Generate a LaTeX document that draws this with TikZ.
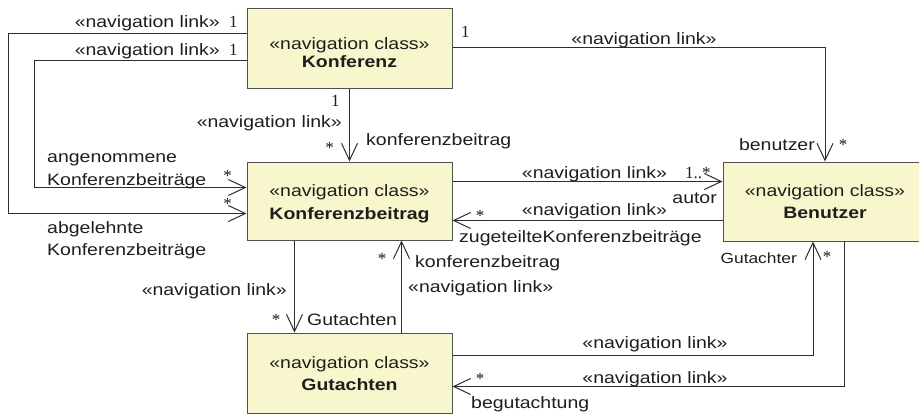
\documentclass[tikz,border=0pt]{standalone}
\usepackage{fontspec}
\setmainfont{Liberation Sans}[FakeStretch=1.18]
\newfontfamily\multfont{Liberation Serif}
\usetikzlibrary{arrows.meta}

\definecolor{boxfill}{RGB}{248,246,204}
\definecolor{boxline}{RGB}{80,80,80}
\definecolor{linecol}{RGB}{45,45,45}
\definecolor{txt}{RGB}{30,30,30}

\newcommand{\labtext}{\fontsize{16.5}{23}\selectfont}
\newcommand{\smalllab}{\fontsize{14.7}{20}\selectfont}
\newcommand{\multtext}{\multfont\fontsize{17}{20}\selectfont}

\tikzset{
  navbox/.style={draw=boxline, fill=boxfill, line width=1pt,
    minimum width=205pt, minimum height=80pt, inner sep=0pt},
  boxtitle/.style={inner sep=0pt, align=center, font=\labtext, text=txt},
  nav/.style={draw=linecol, line width=1pt,
    -{Straight Barb[length=17pt,width=16pt,line width=1pt]}},
  lab/.style={inner sep=0pt, font=\labtext, text=txt},
  smlab/.style={inner sep=0pt, font=\smalllab, text=txt},
  mult/.style={inner sep=0pt, font=\multtext, text=txt},
}

\begin{document}
\begin{tikzpicture}[x=1pt, y=-1pt]
  \useasboundingbox (0,0) rectangle (919,416);
  \fill[white] (0,0) rectangle (919,416);

  % classes
  \node[navbox] (konf) at (349.5,48) {};
  \node[navbox, minimum height=78pt] (kb) at (349.5,201) {};
  \node[navbox] (gu) at (349.5,373) {};
  \node[navbox, minimum width=204pt, minimum height=79pt] (bn) at (825,201.5) {};

  \node[boxtitle] (konf-t) at ([yshift=-5pt]konf.center)
    {«navigation class»\\[-5pt]\textbf{Konferenz}};
  \node[boxtitle] (kb-t) at ([yshift=-3pt]kb.center)
    {«navigation class»\\\textbf{Konferenzbeitrag}};
  \node[boxtitle] (gu-t) at ([yshift=-1pt]gu.center)
    {«navigation class»\\[-1pt]\textbf{Gutachten}};
  \node[boxtitle] (bn-t) at (bn.center)
    {«navigation class»\\[-1pt]\textbf{Benutzer}};

  % navigation links
  \draw[nav] ([yshift=-26pt]konf.north west) -- ++(-238,0) |- ([yshift=-52pt]kb.north west);
  \draw[nav] ([yshift=-53pt]konf.north west) -- ++(-212,0) |- ([yshift=-26pt]kb.north west);
  \draw[nav] (konf.south) -- (kb.north);
  \draw[nav] ([yshift=-40pt]konf.north east) -| (bn.north);
  \draw[nav] ([yshift=-20pt]kb.north east) -- ([yshift=-20pt]bn.north west);
  \draw[nav] ([yshift=-59pt]bn.north west) -- ([yshift=-59pt]kb.north east);
  \draw[nav] ([xshift=48pt]kb.south west) -- ([xshift=48pt]gu.north west);
  \draw[nav] ([xshift=155pt]gu.north west) -- ([xshift=155pt]kb.south west);
  \draw[nav] ([yshift=-23pt]gu.north east) -| ([xshift=-12pt]bn.south);
  \draw[nav] ([xshift=19pt]bn.south) |- ([yshift=-54pt]gu.north east);

  % Konferenz -> Konferenzbeitrag (outer loops)
  \node[lab, anchor=base east] (n1) at (220,27) {«navigation link»};
  \node[mult, anchor=base west] (m1) at (229,27) {1};
  \node[lab, anchor=base east] (n2) at (220,55) {«navigation link»};
  \node[mult, anchor=base west] (m2) at (229,55) {1};
  \node[lab, anchor=base west] (r1a) at (47,162) {angenommene};
  \node[lab, anchor=base west] (r1b) at (47,185) {Konferenzbeiträge};
  \node[mult, anchor=base] (m3) at (227.5,181) {*};
  \node[mult, anchor=base] (m4) at (227.5,209) {*};
  \node[lab, anchor=base west] (r2a) at (47,233) {abgelehnte};
  \node[lab, anchor=base west] (r2b) at (47,255) {Konferenzbeiträge};

  % Konferenz -> Konferenzbeitrag (direct)
  \node[mult, anchor=base west] (m5) at (331,106) {1};
  \node[lab, anchor=base east] (n3) at (342,127) {«navigation link»};
  \node[mult, anchor=base] (m6) at (329.5,153) {*};
  \node[lab, anchor=base west] (r3) at (366,145) {konferenzbeitrag};

  % Konferenz -> Benutzer
  \node[mult, anchor=base west] (m7) at (461,37) {1};
  \node[lab, anchor=base] (n4) at (644,44) {«navigation link»};
  \node[lab, anchor=base east] (r4) at (815,150) {benutzer};
  \node[mult, anchor=base] (m8) at (843,150) {*};

  % Konferenzbeitrag <-> Benutzer
  \node[lab, anchor=base] (n5) at (594.5,178) {«navigation link»};
  \node[mult, anchor=base west] (m9) at (685,178) {1..*};
  \node[lab, anchor=base east] (r5) at (717,203) {autor};
  \node[mult, anchor=base] (m10) at (480,221) {*};
  \node[lab, anchor=base] (n6) at (594.5,215) {«navigation link»};
  \node[lab, anchor=base west] (r6) at (459,242) {zugeteilteKonferenzbeiträge};

  % Konferenzbeitrag <-> Gutachten
  \node[lab, anchor=base east] (n7) at (287,295) {«navigation link»};
  \node[mult, anchor=base] (m11) at (276,325) {*};
  \node[lab, anchor=base west] (r7) at (307,325) {Gutachten};
  \node[mult, anchor=base] (m12) at (382,264) {*};
  \node[lab, anchor=base west] (r8) at (415,267) {konferenzbeitrag};
  \node[lab, anchor=base west] (n8) at (408,292) {«navigation link»};

  % Gutachten <-> Benutzer
  \node[smlab, anchor=base east] (r9) at (797,263) {Gutachter};
  \node[mult, anchor=base] (m13) at (827,262) {*};
  \node[lab, anchor=base] (n9) at (655,348) {«navigation link»};
  \node[lab, anchor=base] (n10) at (655,383) {«navigation link»};
  \node[mult, anchor=base] (m14) at (480,384) {*};
  \node[lab, anchor=base west] (r10) at (471,408) {begutachtung};
\end{tikzpicture}
\end{document}
